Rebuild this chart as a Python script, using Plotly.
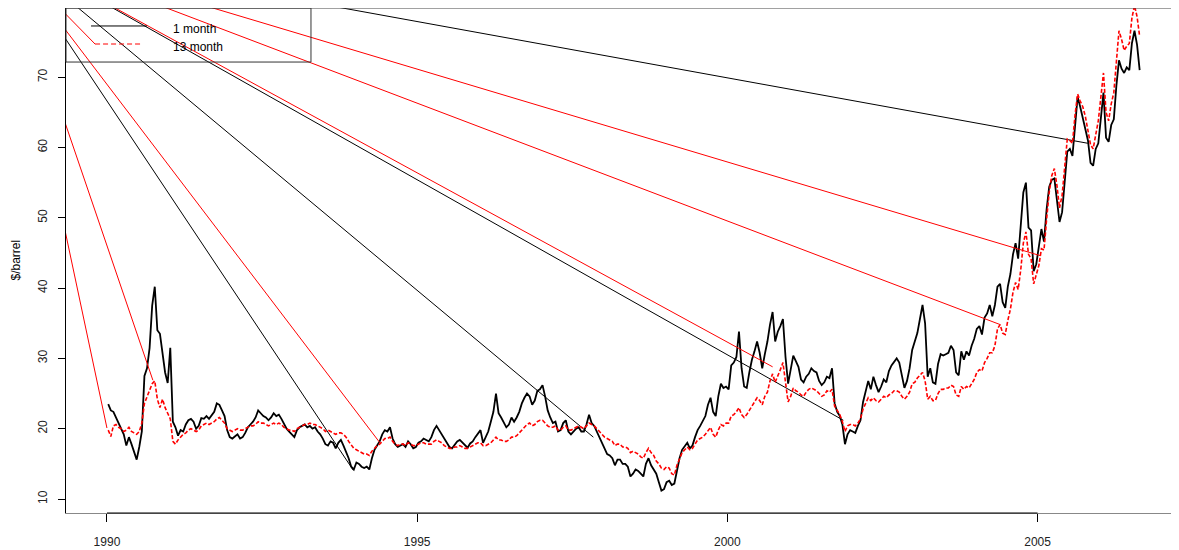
import plotly.graph_objects as go

# ---------------- data ----------------
START_YEAR = 1990
N_MONTHS = 200  # Jan 1990 .. Aug 2006, two readings per month

# 1-month futures, $/barrel (two readings per month)
one_month = [
    # 1990
    23.5, 22.6, 22.4, 21.6, 21.0, 20.2, 19.2, 17.6, 18.8, 17.8, 16.8, 15.6,
    17.4, 19.6, 27.5, 28.6, 31.5, 37.5, 40.2, 34.0, 33.5, 30.5, 28.0, 26.5,
    # 1991
    31.5, 21.0, 20.2, 19.0, 19.8, 19.6, 20.6, 21.2, 21.4, 21.0, 20.0, 20.4,
    21.5, 21.4, 21.8, 21.4, 22.0, 22.4, 23.6, 23.4, 22.6, 21.8, 19.8, 18.8,
    # 1992
    18.6, 18.9, 19.2, 18.6, 18.8, 19.4, 20.2, 20.6, 21.0, 21.6, 22.6, 22.2,
    21.8, 21.6, 21.2, 21.6, 22.2, 21.8, 22.0, 21.4, 20.6, 20.0, 19.6, 19.2,
    # 1993
    18.8, 19.8, 20.2, 20.4, 20.6, 20.2, 20.4, 20.0, 20.2, 19.6, 19.2, 18.6,
    17.8, 17.6, 18.2, 18.0, 17.2, 18.0, 18.4, 17.6, 16.8, 15.8, 14.6, 14.2,
    # 1994
    15.2, 15.0, 14.6, 14.4, 14.6, 14.2, 15.8, 17.0, 17.6, 18.2, 19.2, 19.8,
    19.6, 20.2, 18.6, 17.8, 17.4, 17.6, 17.8, 17.4, 18.2, 17.8, 17.2, 17.4,
    # 1995
    18.0, 18.2, 18.6, 18.4, 18.2, 18.8, 19.8, 20.4, 19.8, 19.4, 18.6, 18.0,
    17.4, 17.2, 17.8, 18.2, 18.4, 18.0, 17.6, 17.3, 17.9, 18.2, 18.8, 19.4,
    # 1996
    19.8, 18.0, 18.8, 19.6, 21.0, 22.4, 25.0, 22.2, 21.6, 21.0, 20.2, 20.6,
    21.6, 21.0, 21.6, 22.4, 23.6, 24.4, 25.0, 24.6, 23.4, 24.0, 25.4, 25.6,
    # 1997
    26.2, 24.6, 22.6, 21.6, 20.8, 21.0, 19.6, 19.8, 20.8, 21.2, 19.6, 19.2,
    19.6, 20.0, 20.2, 19.6, 19.6, 20.6, 22.0, 20.8, 20.4, 19.6, 18.6, 17.8,
    # 1998
    17.0, 16.4, 16.2, 15.8, 14.8, 15.6, 15.6, 15.0, 15.0, 14.6, 13.2, 13.6,
    14.2, 14.0, 13.6, 13.2, 15.0, 15.8, 14.8, 14.2, 13.6, 12.4, 11.2, 11.4,
    # 1999
    12.4, 12.6, 12.0, 12.2, 14.0, 15.8, 17.0, 17.6, 18.0, 17.2, 17.6, 18.8,
    19.8, 20.4, 21.0, 21.8, 23.4, 24.4, 22.4, 21.8, 24.6, 26.4, 25.8, 26.0,
    # 2000
    25.6, 29.0, 29.4, 30.2, 33.8, 28.6, 26.0, 25.8, 28.0, 29.8, 31.0, 32.4,
    30.8, 28.6, 30.6, 32.4, 34.8, 36.6, 32.4, 33.8, 34.6, 35.6, 30.2, 26.4,
    # 2001
    28.4, 30.4, 29.6, 28.8, 27.0, 26.6, 27.4, 27.8, 28.6, 28.2, 28.0, 26.8,
    26.2, 26.6, 27.4, 27.2, 28.6, 23.6, 22.4, 21.8, 20.6, 17.8, 19.2, 19.8,
    # 2002
    19.6, 19.4, 20.4, 21.2, 23.8, 25.2, 26.8, 25.6, 27.4, 26.2, 25.2, 26.0,
    27.0, 26.6, 28.2, 29.0, 29.6, 30.0, 29.4, 27.4, 25.8, 26.8, 28.6, 31.2,
    # 2003
    32.4, 33.6, 35.6, 37.6, 35.0, 27.4, 28.6, 26.6, 26.4, 29.2, 30.6, 30.4,
    30.6, 30.8, 31.8, 31.2, 28.0, 27.6, 31.0, 29.8, 31.0, 30.4, 31.8, 32.8,
    # 2004
    34.2, 34.6, 33.4, 35.8, 36.4, 37.6, 36.0, 37.6, 40.2, 40.6, 38.0, 37.2,
    40.2, 42.0, 44.8, 46.4, 44.2, 48.8, 53.6, 55.0, 48.6, 48.2, 42.4, 43.4,
    # 2005
    45.6, 48.4, 46.6, 51.2, 54.4, 55.4, 55.6, 52.0, 49.4, 50.8, 54.6, 59.4,
    59.8, 58.8, 63.0, 67.2, 65.8, 64.4, 62.6, 61.0, 57.8, 57.4, 59.8, 60.6,
    # 2006 (Jan-Aug)
    64.2, 67.8, 61.4, 60.8, 63.2, 64.0, 68.8, 72.4, 71.2, 70.6, 71.4, 71.0,
    74.8, 76.6, 74.6, 71.0,
]

# 13-month futures, $/barrel (two readings per month)
thirteen_month = [
    # 1990
    19.8, 18.9, 20.4, 20.6, 20.2, 20.0, 19.6, 19.8, 20.2, 19.6, 19.4, 19.2,
    19.6, 20.8, 23.6, 24.6, 25.6, 26.4, 26.8, 24.2, 23.0, 24.2, 23.0, 22.2,
    # 1991
    21.4, 18.2, 17.8, 18.4, 18.8, 19.2, 19.4, 19.8, 20.0, 19.8, 19.6, 19.8,
    20.4, 20.6, 20.8, 20.6, 20.8, 21.0, 21.4, 21.6, 21.2, 20.8, 20.0, 19.8,
    # 1992
    19.6, 19.8, 20.0, 19.8, 19.8, 20.0, 20.2, 20.4, 20.4, 20.6, 21.0, 20.8,
    20.8, 20.6, 20.4, 20.6, 20.8, 20.6, 20.8, 20.6, 20.2, 20.0, 19.8, 19.8,
    # 1993
    19.6, 20.0, 20.2, 20.4, 20.6, 20.6, 20.8, 20.6, 20.6, 20.4, 20.2, 20.0,
    19.6, 19.8, 19.6, 19.4, 19.2, 19.4, 19.4, 19.2, 18.8, 18.2, 17.6, 17.2,
    # 1994
    17.0, 16.8, 16.6, 16.4, 16.4, 16.2, 16.8, 17.2, 17.6, 17.8, 18.2, 18.6,
    18.6, 18.8, 18.2, 17.8, 17.6, 17.8, 17.8, 17.6, 18.0, 17.8, 17.6, 17.6,
    # 1995
    17.8, 18.0, 18.0, 17.8, 17.8, 17.8, 18.2, 18.4, 18.2, 18.0, 17.6, 17.4,
    17.2, 17.2, 17.4, 17.4, 17.6, 17.4, 17.2, 17.2, 17.4, 17.6, 17.8, 18.0,
    # 1996
    18.0, 17.6, 17.6, 17.8, 18.0, 18.4, 18.8, 18.4, 18.4, 18.2, 18.2, 18.4,
    18.8, 18.8, 19.0, 19.4, 19.8, 20.2, 20.6, 20.8, 20.4, 20.6, 21.0, 21.2,
    # 1997
    21.2, 20.8, 20.4, 20.2, 20.2, 20.4, 19.8, 19.8, 20.2, 20.4, 19.8, 19.8,
    20.0, 20.2, 20.4, 20.2, 20.0, 20.4, 20.8, 20.6, 20.4, 20.0, 19.6, 19.2,
    # 1998
    18.8, 18.6, 18.4, 18.2, 17.6, 17.8, 17.8, 17.4, 17.4, 17.2, 16.6, 16.8,
    16.6, 16.4, 16.0, 15.8, 16.6, 17.2, 16.6, 16.2, 15.4, 15.0, 14.4, 14.2,
    # 1999
    14.6, 14.4, 13.6, 13.4, 14.8, 15.8, 16.6, 17.0, 17.4, 17.0, 17.2, 17.8,
    18.4, 18.6, 18.8, 19.2, 19.8, 20.2, 19.2, 18.8, 19.8, 20.6, 20.4, 20.8,
    # 2000
    20.8, 21.8, 22.0, 22.4, 23.0, 22.0, 21.6, 22.0, 22.6, 23.2, 23.8, 24.4,
    24.0, 23.4, 24.6, 25.2, 26.8, 27.8, 26.6, 27.4, 28.4, 29.4, 26.4, 23.8,
    # 2001
    24.6, 25.8, 25.4, 25.2, 24.8, 24.6, 25.2, 25.6, 25.8, 25.6, 25.4, 25.0,
    24.6, 24.8, 25.4, 25.2, 25.6, 23.2, 22.6, 22.0, 21.0, 19.6, 20.4, 20.6,
    # 2002
    20.6, 20.4, 20.8, 21.4, 22.8, 23.6, 24.4, 24.0, 24.4, 24.0, 23.8, 24.2,
    24.6, 24.4, 24.8, 25.0, 25.4, 25.4, 25.2, 24.6, 24.2, 24.6, 25.2, 26.4,
    # 2003
    26.6, 27.2, 27.6, 28.0, 26.8, 24.2, 24.6, 24.0, 24.0, 25.0, 25.6, 25.6,
    25.8, 25.8, 26.2, 26.0, 24.8, 24.6, 26.0, 25.6, 26.0, 25.8, 26.4, 27.0,
    # 2004
    28.0, 28.4, 28.2, 29.4, 30.0, 30.8, 30.8, 31.8, 34.2, 34.8, 33.6, 33.4,
    35.4, 37.0, 39.4, 40.8, 39.8, 42.6, 46.4, 48.0, 44.8, 44.2, 40.6, 41.8,
    # 2005
    43.2, 45.6, 45.4, 49.8, 53.6, 56.0, 57.0, 54.6, 51.4, 53.2, 56.8, 61.2,
    61.0, 60.6, 64.6, 67.6, 66.6, 65.8, 64.4, 62.6, 60.4, 59.8, 61.8, 63.8,
    # 2006 (Jan-Aug)
    67.2, 70.6, 65.0, 63.8, 66.2, 67.8, 72.2, 76.6, 75.4, 73.8, 74.4, 74.8,
    78.4, 80.2, 78.6, 75.8,
]

# Stray straight segments visible in the picture (year, $/barrel)
seg_series = ["1 month", "1 month", "1 month", "1 month",
              "13 month", "13 month", "13 month", "13 month", "13 month", "13 month", "13 month"]
seg_x0 = [1988.80, 1989.00, 1989.30, 1992.20, 1988.92, 1988.92, 1988.92, 1988.92, 1989.31, 1989.78, 1990.21]
seg_y0 = [82.5, 83.8, 83.8, 82.4, 65.0, 74.0, 81.5, 82.7, 83.8, 83.8, 83.8]
seg_x1 = [1993.97, 1997.84, 2001.87, 2005.81, 1990.00, 1990.74, 1994.40, 1989.81, 2000.73, 2004.40, 2005.05]
seg_y1 = [14.1, 18.8, 21.2, 60.6, 20.1, 26.9, 18.0, 74.7, 28.8, 34.8, 44.6]

x_ticks = [1990, 1995, 2000, 2005]
x_tick_labels = ["1990", "1995", "2000", "2005"]
y_ticks = [10, 20, 30, 40, 50, 60, 70]
y_tick_labels = ["10", "20", "30", "40", "50", "60", "70"]
series_names = ["1 month", "13 month"]
y_title = "$/barrel"

# ---------------- figure ----------------
# time stamps: two readings per calendar month
dates = []
for i in range(N_MONTHS):
    for half in (0.25, 0.75):
        dates.append(START_YEAR + (i + half) / 12.0)

FONT = "Liberation Sans, Arial, Helvetica, sans-serif"

fig = go.Figure()

fig.add_trace(go.Scatter(x=dates[:len(one_month)], y=one_month, mode="lines",
                         line=dict(color="black", width=1.8),
                         name=series_names[0], showlegend=False, hoverinfo="skip"))
for s, a, b, c, d in zip(seg_series, seg_x0, seg_y0, seg_x1, seg_y1):
    if s == "1 month":
        fig.add_trace(go.Scatter(x=[a, c], y=[b, d], mode="lines",
                                 line=dict(color="black", width=1),
                                 showlegend=False, hoverinfo="skip"))

fig.add_trace(go.Scatter(x=dates[:len(thirteen_month)], y=thirteen_month, mode="lines",
                         line=dict(color="red", width=1.6, dash="4px,2px"),
                         name=series_names[1], showlegend=False, hoverinfo="skip"))
for s, a, b, c, d in zip(seg_series, seg_x0, seg_y0, seg_x1, seg_y1):
    if s == "13 month":
        fig.add_trace(go.Scatter(x=[a, c], y=[b, d], mode="lines",
                                 line=dict(color="red", width=1),
                                 showlegend=False, hoverinfo="skip"))

shapes = [
    # top edge of the plot box
    dict(type="line", xref="paper", yref="paper", x0=0, x1=1, y0=1, y1=1,
         line=dict(color="#444", width=1)),
    # bottom axis line between first and last tick
    dict(type="line", xref="x", yref="paper", x0=x_ticks[0], x1=x_ticks[-1], y0=0, y1=0,
         line=dict(color="black", width=1.2)),
    # legend box
    dict(type="rect", xref="paper", yref="paper", x0=0, x1=0.2201, y0=0.893, y1=1,
         line=dict(color="#333", width=1), fillcolor="rgba(0,0,0,0)"),
    # legend samples
    dict(type="line", xref="paper", yref="paper", x0=0.0225, x1=0.0728, y0=0.9644, y1=0.9644,
         line=dict(color="black", width=1)),
    dict(type="line", xref="paper", yref="paper", x0=0.0261, x1=0.0683, y0=0.9287, y1=0.9287,
         line=dict(color="red", width=1, dash="5px,3px")),
]

annotations = [
    dict(text=series_names[0], xref="paper", yref="paper", x=0.0943, y=0.9584,
         xanchor="left", yanchor="middle", showarrow=False,
         font=dict(family=FONT, size=12, color="black")),
    dict(text=series_names[1], xref="paper", yref="paper", x=0.0943, y=0.9228,
         xanchor="left", yanchor="middle", showarrow=False,
         font=dict(family=FONT, size=12, color="black")),
    dict(text=y_title, xref="paper", yref="paper", x=-0.0458, y=0.5,
         xanchor="center", yanchor="middle", showarrow=False, textangle=-90,
         font=dict(family=FONT, size=12, color="black")),
]

# the page body adds an 8 px offset on the left and top, so the figure is
# sized 8 px smaller to keep the plot box where the reference has it
fig.update_layout(
    width=1171, height=542,
    margin=dict(l=58, r=0, t=0, b=37, pad=0),
    paper_bgcolor="white", plot_bgcolor="white",
    showlegend=False,
    font=dict(family=FONT, size=12, color="black"),
    shapes=shapes, annotations=annotations,
    xaxis=dict(range=[1989.34, 2007.28], tickmode="array", tickvals=x_ticks,
               ticktext=x_tick_labels, ticks="outside", ticklen=8, tickcolor="black",
               tickwidth=1, showgrid=False, zeroline=False, showline=True,
               linecolor="#888", linewidth=1, ticklabelstandoff=10,
               tickfont=dict(family=FONT, size=12, color="#222")),
    yaxis=dict(range=[8.01, 79.84], tickmode="array", tickvals=y_ticks,
               ticktext=y_tick_labels, ticks="outside", ticklen=7, tickcolor="black",
               tickwidth=1, showgrid=False, zeroline=False, showline=True,
               linecolor="black", linewidth=1, tickangle=-90, ticklabelstandoff=6,
               tickfont=dict(family=FONT, size=12, color="#222")),
)

fig.write_html("out.html")
